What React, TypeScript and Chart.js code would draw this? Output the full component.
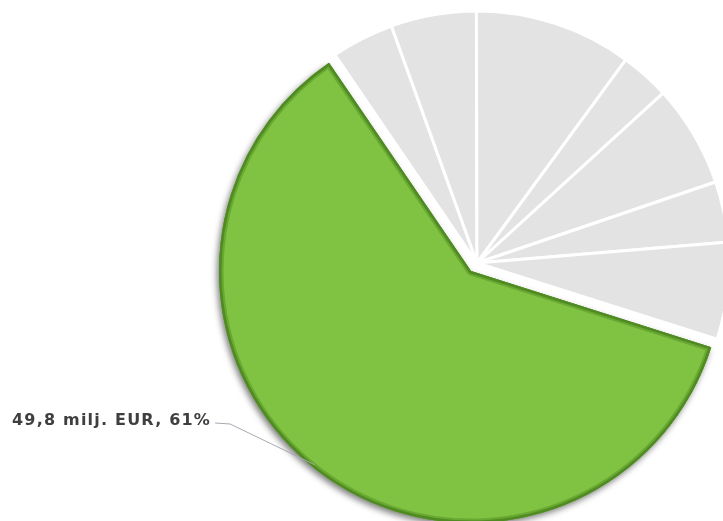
import React, { useEffect, useRef } from "react";
import { Chart, registerables } from "chart.js";

Chart.register(...registerables);

// Data (milj. EUR)
const categories = ["Luokka A", "Luokka B", "Luokka C", "Luokka D", "Luokka E", "Luokka F", "Luokka G", "Luokka H"];
const values = [3.3, 4.5, 8.3, 2.6, 5.4, 3.2, 5.1, 49.8];
const highlightIndex = 7;
const unit = "milj. EUR";

// Style
const grayColor = "#e3e3e3";
const greenColor = "#80c241";
const greenEdge = "#4f8a22";
const startRotation = -34.3;
const pieRadius = 252;
const explodePx = 10; // visual shift of the highlighted slice
const explodeOffset = explodePx * 4; // Chart.js v4 divides offset by 4

function greenGeometry(chart: any) {
  const arc = chart.getDatasetMeta(0).data[highlightIndex];
  if (!arc) return null;
  const { x, y, startAngle, endAngle, outerRadius } = arc.getProps(
    ["x", "y", "startAngle", "endAngle", "outerRadius"],
    true
  );
  const t = (arc.options.offset || 0) / 4;
  const mid = (startAngle + endAngle) / 2;
  return {
    cx: x + Math.cos(mid) * t,
    cy: y + Math.sin(mid) * t,
    r: outerRadius + t,
    startAngle,
    endAngle,
    mid,
  };
}

function tracePath(ctx: CanvasRenderingContext2D, g: any) {
  ctx.beginPath();
  ctx.moveTo(g.cx, g.cy);
  ctx.arc(g.cx, g.cy, g.r, g.startAngle, g.endAngle);
  ctx.closePath();
}

// keep the exploded slice the same visual radius as the others
const radiusFixPlugin = {
  id: "radiusFix",
  afterDatasetsUpdate(chart: any) {
    const arc = chart.getDatasetMeta(0).data[highlightIndex];
    if (!arc) return;
    arc.outerRadius = arc.outerRadius - explodePx;
  },
};

const shadowPlugin = {
  id: "greenShadow",
  beforeDatasetsDraw(chart: any) {
    const g = greenGeometry(chart);
    if (!g) return;
    const ctx = chart.ctx;
    ctx.save();
    ctx.shadowColor = "rgba(0,0,0,0.5)";
    ctx.shadowBlur = 6;
    ctx.shadowOffsetX = -2;
    ctx.shadowOffsetY = 3;
    ctx.fillStyle = greenEdge;
    tracePath(ctx, g);
    ctx.fill();
    ctx.restore();
  },
};

const rimAndLabelPlugin = {
  id: "greenLabel",
  afterDatasetsDraw(chart: any) {
    const g = greenGeometry(chart);
    if (!g) return;
    const ctx = chart.ctx;

    // bevel rim inside the green slice
    ctx.save();
    tracePath(ctx, g);
    ctx.clip();
    ctx.lineJoin = "round";
    ctx.strokeStyle = "rgba(90,150,40,0.6)";
    ctx.lineWidth = 9;
    tracePath(ctx, g);
    ctx.stroke();
    ctx.strokeStyle = greenEdge;
    ctx.lineWidth = 5;
    tracePath(ctx, g);
    ctx.stroke();
    ctx.restore();

    // label
    const mid = g.mid + 0.04;
    const dist = g.r - 3;
    const ax = g.cx + Math.cos(mid) * dist;
    const ay = g.cy + Math.sin(mid) * dist;
    const total = values.reduce((a, b) => a + b, 0);
    const pct = Math.round((values[highlightIndex] / total) * 100);
    const text = `${values[highlightIndex].toFixed(1).replace(".", ",")} ${unit}, ${pct}%`;
    ctx.save();
    ctx.font = "bold 16px 'DejaVu Sans'";
    (ctx as any).letterSpacing = "1.2px";
    ctx.fillStyle = "#3f3f3f";
    ctx.textBaseline = "alphabetic";
    ctx.textAlign = "left";
    const tx = 12;
    const ty = 425;
    ctx.fillText(text, tx, ty);
    const w = ctx.measureText(text).width;
    ctx.strokeStyle = "#a8a8b4";
    ctx.lineWidth = 1;
    ctx.beginPath();
    ctx.moveTo(tx + w + 4, ty - 2);
    ctx.lineTo(tx + w + 19, ty - 1);
    ctx.lineTo(ax, ay);
    ctx.stroke();
    ctx.restore();
  },
};

export default function App() {
  const ref = useRef<HTMLCanvasElement | null>(null);
  useEffect(() => {
    if (!ref.current) return;
    const colors = values.map((_, i) => (i === highlightIndex ? greenColor : grayColor));
    const borders = values.map((_, i) => (i === highlightIndex ? "rgba(0,0,0,0)" : "#ffffff"));
    const widths = values.map((_, i) => (i === highlightIndex ? 0 : 3));
    const offsets = values.map((_, i) => (i === highlightIndex ? explodeOffset : 0));
    const chart = new Chart(ref.current, {
      type: "pie",
      data: {
        labels: categories,
        datasets: [
          {
            data: values,
            backgroundColor: colors,
            borderColor: borders,
            borderWidth: widths,
            offset: offsets,
            clip: false as any,
          },
        ],
      },
      options: {
        responsive: false,
        animation: false,
        rotation: startRotation,
        radius: pieRadius,
        layout: { padding: { left: 231, top: 5, right: 0, bottom: 0 } },
        plugins: {
          legend: { display: false },
          tooltip: { enabled: false },
        },
      },
      plugins: [radiusFixPlugin, shadowPlugin, rimAndLabelPlugin],
    });
    return () => chart.destroy();
  }, []);
  return (
    <div style={{ position: "absolute", left: 0, top: 0, width: 723, height: 521, background: "#ffffff" }}>
      <canvas ref={ref} width={723} height={521} />
    </div>
  );
}
